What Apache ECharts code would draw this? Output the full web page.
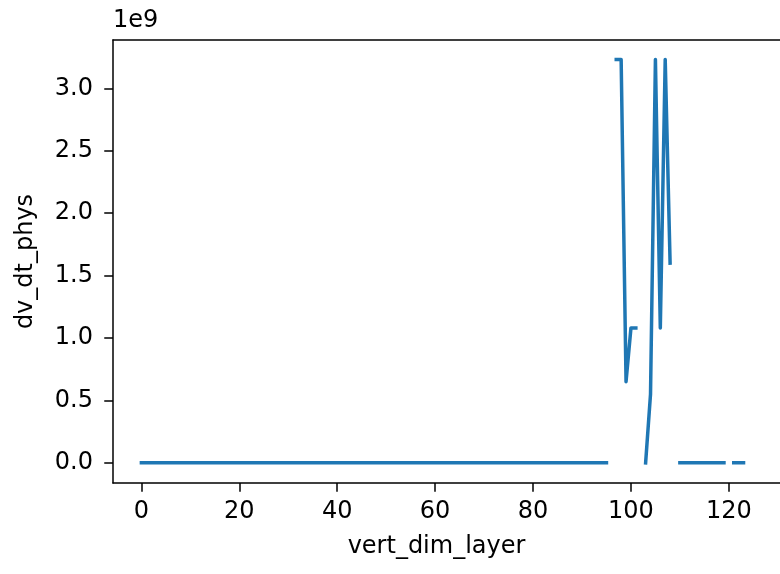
<!DOCTYPE html>
<html>
<head>
<meta charset="utf-8">
<script src="https://cdn.jsdelivr.net/npm/echarts@6/dist/echarts.min.js"></script>
<style>html,body{margin:0;padding:0;background:#fff}#c{width:780px;height:574px}</style>
</head>
<body>
<div id="c"></div>
<script>
// x: vertical layer index
const vertDimLayer = [
  0,1,2,3,4,5,6,7,8,9,10,11,12,13,14,15,
  16,17,18,19,20,21,22,23,24,25,26,27,28,29,30,31,
  32,33,34,35,36,37,38,39,40,41,42,43,44,45,46,47,
  48,49,50,51,52,53,54,55,56,57,58,59,60,61,62,63,
  64,65,66,67,68,69,70,71,72,73,74,75,76,77,78,79,
  80,81,82,83,84,85,86,87,88,89,90,91,92,93,94,95,
  96,97,98,99,100,101,102,103,104,105,106,107,108,109,
  110,111,112,113,114,115,116,117,118,119,120,121,122,123
];
// y: dv_dt_phys (null = missing / NaN)
const dvDtPhys = [
  0,0,0,0,0,0,0,0,0,0,0,0,0,0,0,0,
  0,0,0,0,0,0,0,0,0,0,0,0,0,0,0,0,
  0,0,0,0,0,0,0,0,0,0,0,0,0,0,0,0,
  0,0,0,0,0,0,0,0,0,0,0,0,0,0,0,0,
  0,0,0,0,0,0,0,0,0,0,0,0,0,0,0,0,
  0,0,0,0,0,0,0,0,0,0,0,0,0,0,0,0,
  null,3.23e9,3.23e9,0.65e9,1.08e9,1.08e9,null,0,0.55e9,3.23e9,1.08e9,3.23e9,1.6e9,null,
  0,0,0,0,0,0,0,0,0,0,null,0,0,0
];
const xTicks = [0,20,40,60,80,100,120];
const yTicks = [0,0.5e9,1.0e9,1.5e9,2.0e9,2.5e9,3.0e9];
const xLabel = 'vert_dim_layer';
const yLabel = 'dv_dt_phys';
const yOffsetText = '1e9';

const chart = echarts.init(document.getElementById('c'), null, {renderer: 'canvas'});
const font = 'DejaVu Sans';
const fs = 24;
const pairs = vertDimLayer.map((x, i) => [x, dvDtPhys[i]]);
const spine = {show: true, onZero: false, lineStyle: {color: '#000', width: 1.5}};

chart.setOption({
  animation: false,
  backgroundColor: '#fff',
  grid: {left: 113, top: 40, right: -12, bottom: 91, outerBoundsMode: 'none', containLabel: false, show: false},
  xAxis: [{
    type: 'value', min: -5.8, max: 132.9,
    axisLine: spine,
    splitLine: {show: false},
    axisTick: {show: true, customValues: xTicks, length: 8.75, lineStyle: {color: '#000', width: 1.5}},
    axisLabel: {customValues: xTicks, margin: 17, color: '#000', fontFamily: font, fontSize: fs, formatter: v => String(v)},
    name: xLabel, nameLocation: 'middle', nameGap: 52,
    nameTextStyle: {color: '#000', fontFamily: font, fontSize: fs, padding: [0, 32, 0, 0]}
  }, {
    type: 'value', position: 'top', min: -5.8, max: 132.9,
    axisLine: spine,
    splitLine: {show: false}, axisTick: {show: false}, axisLabel: {show: false}
  }],
  yAxis: {
    type: 'value', min: -0.1615e9, max: 3.387e9,
    axisLine: spine,
    splitLine: {show: false},
    axisTick: {show: true, customValues: yTicks, length: 8.75, lineStyle: {color: '#000', width: 1.5}},
    axisLabel: {customValues: yTicks, margin: 20, color: '#000', fontFamily: font, fontSize: fs, formatter: v => (v / 1e9).toFixed(1)},
    name: yLabel, nameLocation: 'middle', nameGap: 75, nameRotate: 90,
    nameTextStyle: {color: '#000', fontFamily: font, fontSize: fs}
  },
  graphic: [{
    type: 'text', left: 113, top: 9,
    style: {text: yOffsetText, fill: '#000', font: fs + 'px "' + font + '"'}
  }],
  series: [{
    type: 'line', data: pairs, showSymbol: false, connectNulls: false,
    lineStyle: {color: '#1f77b4', width: 3.5, cap: 'square', join: 'round'},
    emphasis: {disabled: true}
  }]
});
</script>
</body>
</html>
